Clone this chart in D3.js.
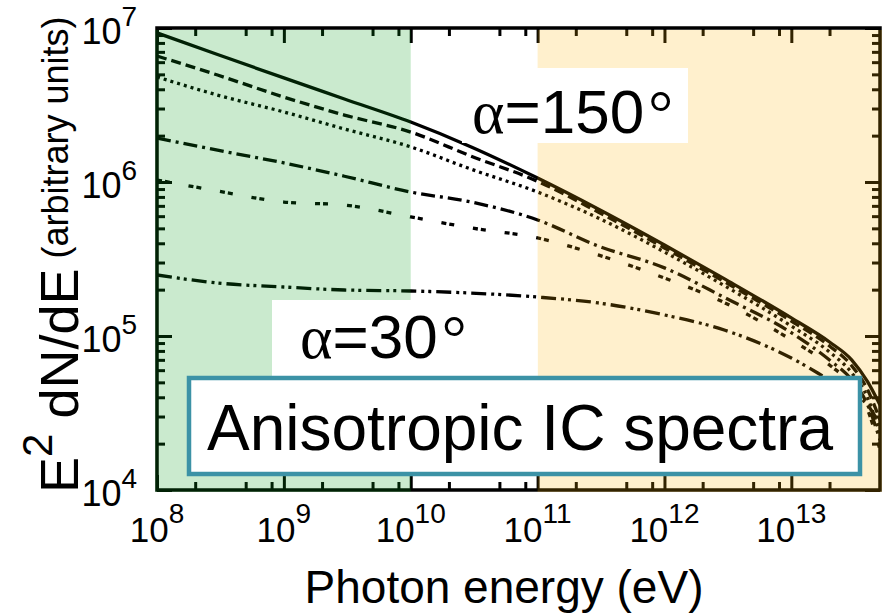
<!DOCTYPE html>
<html>
<head>
<meta charset="utf-8">
<script src="https://cdn.jsdelivr.net/npm/d3@7"></script>
<style>
  body { margin: 0; background: #fff; }
  svg { display: block; font-family: "Liberation Sans", Arial, sans-serif; }
</style>
</head>
<body>
<svg id="chart"></svg>
<script>
const energies = [1e8, 3e8, 1e9, 3e9, 1e10, 3e10, 1e11, 3e11, 1e12, 3e12, 1e13, 2e13, 3e13, 4e13, 5e13];

// E^2 dN/dE, arbitrary units, top (alpha=150) to bottom (alpha=30)
const specSolid   = [9.29e6, 6.73e6, 4.74e6, 3.46e6, 2.45e6, 1.69e6, 1.06e6, 6.68e5, 3.90e5, 2.34e5, 1.31e5, 9.14e4, 6.98e4, 5.03e4, 3.56e4];
const specDashed  = [6.58e6, 4.95e6, 3.56e6, 2.72e6, 2.11e6, 1.47e6, 1.01e6, 6.39e5, 3.73e5, 2.24e5, 1.25e5, 8.61e4, 6.39e4, 4.46e4, 2.85e4];
const specDotted  = [4.81e6, 3.67e6, 2.85e6, 2.21e6, 1.69e6, 1.21e6, 8.61e5, 5.84e5, 3.51e5, 2.11e5, 1.16e5, 7.87e4, 5.75e4, 3.96e4, 2.28e4];
const specDashDot = [1.93e6, 1.61e6, 1.33e6, 1.09e6, 8.61e5, 7.41e5, 5.67e5, 3.84e5, 2.77e5, 1.77e5, 1.05e5, 6.98e4, 5.18e4, 3.56e4, 2.11e4];
const specDblDash = [1.03e6, 8.74e5, 7.41e5, 7.09e5, 5.93e5, 5.03e5, 4.33e5, 3.36e5, 2.38e5, 1.64e5, 9.42e4, 6.48e4, 4.81e4, 3.31e4, 1.82e4];
const specDash2Dot = [2.49e5, 2.21e5, 2.08e5, 1.99e5, 1.96e5, 1.90e5, 1.79e5, 1.64e5, 1.37e5, 1.09e5, 7.2e4, 5.18e4, 4.26e4, 3.56e4, 2.64e4];

const xMajor = [1e8, 1e9, 1e10, 1e11, 1e12, 1e13];
const yMajor = [1e4, 1e5, 1e6, 1e7];

const svg = d3.select("#chart").attr("width", 885).attr("height", 614);

const margin = { left: 157, top: 28 };
const W = 723, H = 462;

const x = d3.scaleLog().domain([1e8, 5e13]).range([0, W]);
const y = d3.scaleLog().domain([1e4, 1e7]).range([H, 0]);

const g = svg.append("g").attr("transform", `translate(${margin.left},${margin.top})`);

g.append("clipPath").attr("id", "plotclip")
  .append("rect").attr("width", W).attr("height", H);

// ── curves ──
const series = [
  { vals: specSolid,    dash: null },
  { vals: specDashed,   dash: "10,5" },
  { vals: specDotted,   dash: "3,4" },
  { vals: specDashDot,  dash: "14,5,3,5" },
  { vals: specDblDash,  dash: "5,3,5,19" },
  { vals: specDash2Dot, dash: "15,5,3,4,3,5" }
];

const line = d3.line()
  .x(d => x(d[0]))
  .y(d => y(d[1]))
  .curve(d3.curveMonotoneX);

g.append("g").attr("clip-path", "url(#plotclip)")
  .selectAll("path")
  .data(series)
  .join("path")
  .attr("d", s => line(energies.map((e, i) => [e, s.vals[i]])))
  .attr("fill", "none")
  .attr("stroke", "#000")
  .attr("stroke-width", 3.3)
  .attr("stroke-dasharray", s => s.dash);

// ── ticks (inward, all four sides) ──
const xMinor = [];
for (let d = 8; d <= 13; d++) [2, 5, 8].forEach(m => { const v = m * 10 ** d; if (v < 5e13) xMinor.push(v); });
const yMinor = [];
for (let d = 4; d <= 6; d++) for (let m = 2; m <= 9; m++) yMinor.push(m * 10 ** d);

function ticks(axisFn, scale, vals, len, transform) {
  const a = g.append("g")
    .attr("transform", transform || null)
    .call(axisFn(scale).tickValues(vals).tickSize(-len).tickFormat(""));
  a.select(".domain").remove();
  a.selectAll(".tick line").attr("stroke", "#000").attr("stroke-width", 3);
}
ticks(d3.axisBottom, x, xMajor, 15, `translate(0,${H})`);
ticks(d3.axisBottom, x, xMinor, 8, `translate(0,${H})`);
ticks(d3.axisTop, x, xMajor, 15);
ticks(d3.axisTop, x, xMinor, 8);
ticks(d3.axisLeft, y, yMajor, 15);
ticks(d3.axisLeft, y, yMinor, 8);
ticks(d3.axisRight, y, yMajor, 15, `translate(${W},0)`);
ticks(d3.axisRight, y, yMinor, 8, `translate(${W},0)`);

g.append("rect")
  .attr("width", W).attr("height", H)
  .attr("fill", "none").attr("stroke", "#000").attr("stroke-width", 3.5);

// ── shaded bands (translucent, tint the lines under them) ──
g.append("rect")
  .attr("x", -2).attr("y", 2)
  .attr("width", x(1e10) + 2).attr("height", H)
  .attr("fill", "rgb(7,155,22)").attr("fill-opacity", 0.21);
g.append("rect")
  .attr("x", x(1e11)).attr("y", 2)
  .attr("width", W + 2 - x(1e11)).attr("height", H)
  .attr("fill", "rgb(255,179,0)").attr("fill-opacity", 0.196);

// ── angle labels ──
g.append("rect").attr("x", 305).attr("y", 40).attr("width", 226).attr("height", 75).attr("fill", "#fff");
g.append("rect").attr("x", 115).attr("y", 272).attr("width", x(1e11) - 115).attr("height", 80).attr("fill", "#fff");

function angleLabel(px, py, deg) {
  const t = g.append("text").attr("x", px).attr("y", py).attr("font-size", 62).attr("fill", "#000");
  t.append("tspan").attr("font-family", "Liberation Serif, serif").text("α");
  t.append("tspan").text(`=${deg}`);
  t.append("tspan").attr("font-family", "Liberation Serif, serif").attr("dx", 4).text("°");
}
angleLabel(315, 105, 150);
angleLabel(143, 330, 30);

// ── caption box ──
g.append("rect")
  .attr("x", 32).attr("y", 350).attr("width", 671).attr("height", 96)
  .attr("fill", "#fff").attr("stroke", "#3c92a6").attr("stroke-width", 4.5);
g.append("text")
  .attr("x", 363).attr("y", 422)
  .attr("text-anchor", "middle").attr("font-size", 64).attr("fill", "#000")
  .text("Anisotropic IC spectra");

// ── tick labels ──
function powerLabel(sel, v, base, sup, rise) {
  sel.append("tspan").attr("font-size", base).text("10");
  sel.append("tspan").attr("font-size", sup).attr("dy", -rise).text(Math.round(Math.log10(v)));
}
xMajor.forEach(v => {
  const t = g.append("text").attr("x", x(v)).attr("y", H + 52).attr("text-anchor", "middle").attr("fill", "#000");
  powerLabel(t, v, 35, 28, 19);
});
yMajor.forEach(v => {
  const t = g.append("text").attr("x", -20).attr("y", y(v) + 16).attr("text-anchor", "end").attr("fill", "#000");
  powerLabel(t, v, 36, 28, 18);
});

// ── axis titles ──
g.append("text")
  .attr("x", 347).attr("y", 575)
  .attr("text-anchor", "middle").attr("font-size", 46).attr("fill", "#000")
  .text("Photon energy (eV)");

const yt = g.append("text")
  .attr("transform", `translate(-79,${H + 3}) rotate(-90)`)
  .attr("fill", "#000");
yt.append("tspan").attr("font-size", 54).text("E");
yt.append("tspan").attr("font-size", 42).attr("dy", -26).text("2");
yt.append("tspan").attr("font-size", 54).attr("dy", 26).text(" dN/dE");
yt.append("tspan").attr("font-size", 36).attr("dy", -10).text(" (arbitrary units)");
</script>
</body>
</html>
